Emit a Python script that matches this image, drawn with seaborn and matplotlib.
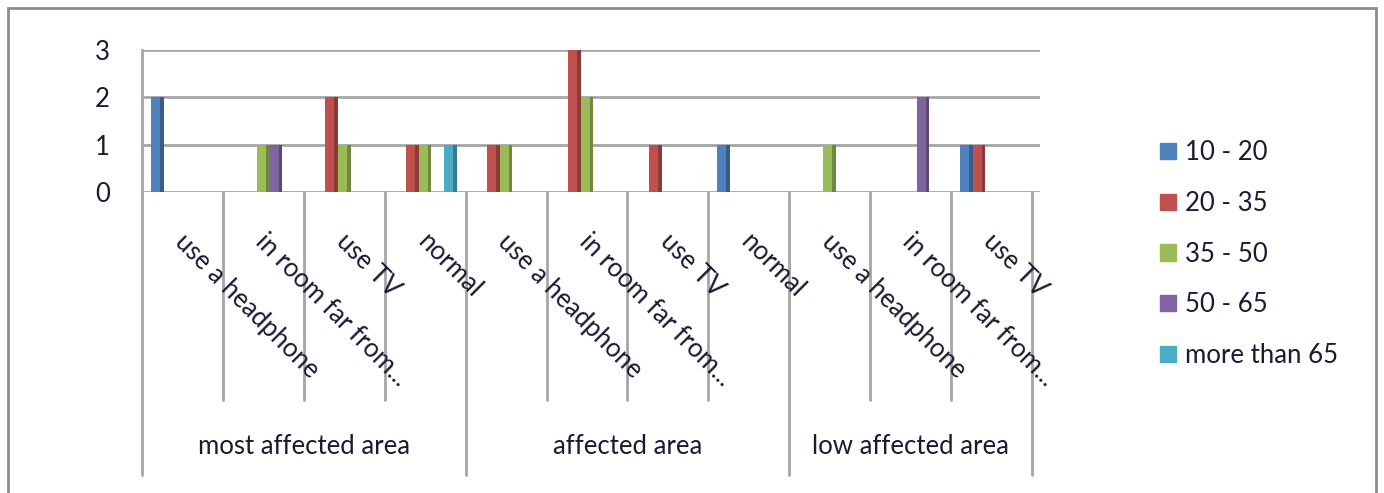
import matplotlib
matplotlib.use("Agg")
import matplotlib.pyplot as plt
import matplotlib.transforms as mtransforms
from matplotlib.patches import Rectangle
import matplotlib.colors as mcolors
import numpy as np
import pandas as pd
import seaborn as sns

# --- data ---
groups = ['most affected area', 'affected area', 'low affected area']
group_cats = [
    ['use a headphone', 'in room far from...', 'use TV', 'normal'],
    ['use a headphone', 'in room far from...', 'use TV', 'normal'],
    ['use a headphone', 'in room far from...', 'use TV'],
]
series = ['10 - 20', '20 - 35', '35 - 50', '50 - 65', 'more than 65']
colors = ['#4F81BD', '#C0504D', '#9BBB59', '#8064A2', '#4BACC6']

# one entry per category (in order) for each series
v_10_20   = [2, 0, 0, 0,   0, 0, 0, 1,   0, 0, 1]
v_20_35   = [0, 0, 2, 1,   1, 3, 1, 0,   0, 0, 1]
v_35_50   = [0, 1, 1, 1,   1, 2, 0, 0,   1, 0, 0]
v_50_65   = [0, 1, 0, 0,   0, 0, 0, 0,   0, 2, 0]
v_more_65 = [0, 0, 0, 1,   0, 0, 0, 0,   0, 0, 0]

cat_labels = [c for cats in group_cats for c in cats]
keys = [f'{i:02d}' for i in range(len(cat_labels))]
vals = [v_10_20, v_20_35, v_35_50, v_50_65, v_more_65]

rows = []
for s, vv in zip(series, vals):
    for k, v in zip(keys, vv):
        rows.append({'cat': k, 'series': s, 'value': v})
df = pd.DataFrame(rows)

sns.set_style('white')
plt.rcParams['font.family'] = ['Lato', 'DejaVu Sans']
grid_c = '#A6A6A6'
txt_c = '#1A1A33'
FS = 18.5

fig = plt.figure(figsize=(13.84, 4.93), dpi=100)
ax = fig.add_axes([142 / 1384, 1 - 192 / 493, 898 / 1384, 142 / 493])

sns.barplot(data=df, x='cat', y='value', hue='series', order=keys,
            hue_order=series, palette=colors, width=0.78, saturation=1,
            ax=ax, legend=False, linewidth=0)

# darker right side to hint at the 3-D look of the original
for p in list(ax.patches):
    h = p.get_height()
    if h > 0:
        c = np.array(mcolors.to_rgb(p.get_facecolor())) * 0.72
        w = p.get_width()
        ax.add_patch(Rectangle((p.get_x() + w * 0.72, 0), w * 0.28, h,
                               color=c, lw=0, zorder=p.get_zorder()))

n = len(keys)
ax.set_xlim(-0.5, n - 0.5 + 0.1)
ax.set_ylim(0, 3)
ax.set_yticks([0, 1, 2, 3])
ax.set_yticklabels(['0', '1', '2', '3'], fontsize=FS, color=txt_c)
ax.tick_params(axis='y', length=9, width=2, color=grid_c, pad=14)
ax.tick_params(axis='x', length=0)
ax.set_xticks([])
ax.set_xlabel('')
ax.set_ylabel('')
for sp in ['top', 'right', 'bottom']:
    ax.spines[sp].set_visible(False)
ax.spines['left'].set_color(grid_c)
ax.spines['left'].set_linewidth(2)
for y in [0, 1, 2, 3]:
    ax.axhline(y, color=grid_c, lw=2, zorder=0)

# category / group separators below the axis
trans = mtransforms.blended_transform_factory(ax.transData, ax.transAxes)
bounds = [-0.5]
for cats in group_cats:
    bounds.append(bounds[-1] + len(cats))
for i in range(n + 1):
    x = i - 0.5
    long = any(abs(x - b) < 1e-9 for b in bounds)
    y_end = (192 - 475) / 142 if long else (192 - 400) / 142
    ax.plot([x, x], [0, y_end], transform=trans, color=grid_c, lw=2,
            clip_on=False)

# rotated category labels
for i, lab in enumerate(cat_labels):
    ax.text(i - 0.05, (192 - 238) / 142, lab, transform=trans, rotation=-45,
            rotation_mode='anchor', ha='left', va='center', fontsize=FS,
            color=txt_c)

# group labels
start = 0
for g, cats in zip(groups, group_cats):
    mid = start + (len(cats) - 1) / 2
    ax.text(mid, (192 - 446) / 142, g, transform=trans, ha='center',
            va='center', fontsize=FS, color=txt_c)
    start += len(cats)

# legend
handles = [Rectangle((0, 0), 1, 1, color=c) for c in colors]
fig.legend(handles, series, loc='center left',
           bbox_to_anchor=(1137 / 1384, 1 - 254 / 493), frameon=False,
           fontsize=FS, handlelength=0.6, handleheight=0.6,
           handletextpad=0.35, labelspacing=1.0, labelcolor=txt_c)

# outer chart frame
fig.patches.append(Rectangle((8 / 1384, -0.05), 1368 / 1384, 1.05 - 8 / 493,
                             transform=fig.transFigure, fill=False,
                             edgecolor='#8C8C8C', lw=2))

fig.savefig('out.png', dpi=100)
